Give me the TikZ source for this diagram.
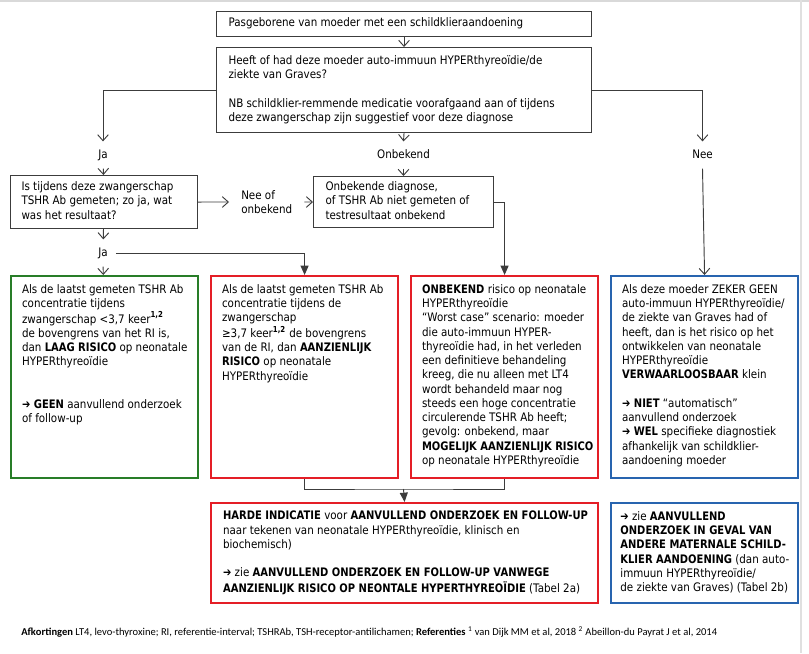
\documentclass[tikz,border=0pt]{standalone}
\usepackage{fontspec}
\setmainfont{DejaVu Sans}[FakeStretch=0.88, BoldFeatures={FakeStretch=0.85}]
\newfontfamily\notefont{Carlito}
\usetikzlibrary{arrows.meta,positioning,calc}

\definecolor{boxgreen}{RGB}{40,125,40}
\definecolor{boxred}{RGB}{228,30,38}
\definecolor{boxblue}{RGB}{40,100,175}
\definecolor{linegray}{RGB}{60,60,60}

\newcommand{\bodyfont}{\fontsize{8.8pt}{10.7pt}\selectfont}
\newcommand{\boxlines}[2]{\parbox{#1}{\begin{tabular}{@{}l@{}}#2\end{tabular}}}
\newcommand{\panellines}[1]{\parbox[c][140.7pt][t]{123.75pt}{\begin{tabular}{@{}l@{}}#1\end{tabular}}}

\begin{document}
\begin{tikzpicture}[
x=0.75pt,
y=-0.75pt,
qbox/.style={
  draw=linegray,
  line width=0.8pt,
  anchor=north west,
  inner xsep=9pt,
  inner ysep=0pt,
  font=\bodyfont
  },
panel/.style={
  draw=#1,
  line width=1.6pt,
  anchor=north west,
  inner xsep=8.25pt,
  inner ysep=5.4pt,
  font=\bodyfont
  },
lbl/.style={
  font=\bodyfont,
  inner sep=6pt,
  text height=6.5pt,
  text depth=1.5pt
  },
link/.style={draw=linegray, line width=0.7pt},
arr/.style={link, -{Straight Barb[length=4.5pt,width=8pt]}},
farr/.style={link, -{Triangle[length=7pt,width=6pt]}}
]
\useasboundingbox (0,0) rectangle (809,653);
\draw[black!15, line width=1.5pt] (0,1) -- (809,1);
\draw[black!12, line width=1pt] (801,0) -- (801,653);

% vragen bovenaan
\node[qbox, minimum width=281.25pt, minimum height=18.75pt] (start) at (216,11)
  {\boxlines{263.25pt}{Pasgeborene van moeder met een schildklieraandoening}};
\node[qbox, minimum width=281.25pt, minimum height=63.75pt] (ask) at (216,47)
  {\boxlines{263.25pt}{Heeft of had deze moeder auto-immuun HYPERthyreoïdie/de\\
   ziekte van Graves?\\ \\
   NB schildklier-remmende medicatie voorafgaand aan of tijdens\\
   deze zwangerschap zijn suggestief voor deze diagnose}};

\node[lbl] (ja1) at (103,155) {Ja};
\node[lbl] (onb) at (403.5,155) {Onbekend};
\node[lbl] (nee) at (702.5,155) {Nee};

\node[qbox, minimum height=39.75pt, inner xsep=8.25pt] (ask2) at (10,175)
  {\boxlines{123.75pt}{Is tijdens deze zwangerschap\\TSHR Ab gemeten; zo ja, wat\\was het resultaat?}};
\node[font=\bodyfont, align=left, anchor=west, inner xsep=9pt, inner ysep=2pt] (neeof) at (229,202)
  {Nee of\\onbekend};
\node[qbox, minimum height=38.25pt] (unknown) at (313,176)
  {\boxlines{117pt}{Onbekende diagnose,\\of TSHR Ab niet gemeten of\\testresultaat onbekend}};

\node[lbl] (ja2) at (103,253) {Ja};

% risico-blokken
\node[panel=boxgreen] (low) at (10,275)
  {\panellines{Als de laatst gemeten TSHR Ab\\
   concentratie tijdens\\
   zwangerschap <3,7 keer\textsuperscript{\textbf{1,2}}\\
   de bovengrens van het RI is,\\
   dan \textbf{LAAG RISICO} op neonatale\\
   HYPERthyreoïdie\\ \\ \\
   \textbf{➔ GEEN} aanvullend onderzoek\\
   of follow-up}};
\node[panel=boxred] (risk) at (210,275)
  {\panellines{Als de laatst gemeten TSHR Ab\\
   concentratie tijdens de\\
   zwangerschap\\
   ≥3,7 keer\textsuperscript{\textbf{1,2}} de bovengrens\\
   van de RI, dan \textbf{AANZIENLIJK}\\
   \textbf{RISICO} op neonatale\\
   HYPERthyreoïdie}};
\node[panel=boxred] (unsure) at (410,275)
  {\panellines{\textbf{ONBEKEND} risico op neonatale\\
   HYPERthyreoïdie\\
   “Worst case” scenario: moeder\\
   die auto-immuun HYPER-\\
   thyreoïdie had, in het verleden\\
   een definitieve behandeling\\
   kreeg, die nu alleen met LT4\\
   wordt behandeld maar nog\\
   steeds een hoge concentratie\\
   circulerende TSHR Ab heeft;\\
   gevolg: onbekend, maar\\
   \textbf{MOGELIJK AANZIENLIJK RISICO}\\
   op neonatale HYPERthyreoïdie}};
\node[panel=boxblue] (none) at (610,275)
  {\panellines{Als deze moeder ZEKER GEEN\\
   auto-immuun HYPERthyreoïdie/\\
   de ziekte van Graves had of\\
   heeft, dan is het risico op het\\
   ontwikkelen van neonatale\\
   HYPERthyreoïdie\\
   \textbf{VERWAARLOOSBAAR} klein\\ \\
   \textbf{➔ NIET} “automatisch”\\
   aanvullend onderzoek\\
   \textbf{➔ WEL} specifieke diagnostiek\\
   afhankelijk van schildklier-\\
   aandoening moeder}};

% vervolg
\node[panel=boxred, inner xsep=9pt, inner ysep=0pt, minimum height=75pt] (hard) at (210,502)
  {\boxlines{272.25pt}{\textbf{HARDE INDICATIE} voor \textbf{AANVULLEND ONDERZOEK EN FOLLOW-UP}\\
   naar tekenen van neonatale HYPERthyreoïdie, klinisch en\\
   biochemisch)\\ \\
   \textbf{➔} zie \textbf{AANVULLEND ONDERZOEK EN FOLLOW-UP VANWEGE}\\
   \textbf{AANZIENLIJK RISICO OP NEONTALE HYPERTHYREOÏDIE} (Tabel 2a)}};
\node[panel=boxblue, inner xsep=7pt, inner ysep=0pt, minimum height=75pt] (other) at (610,502)
  {\boxlines{126.25pt}{\textbf{➔} zie \textbf{AANVULLEND}\\
   \textbf{ONDERZOEK IN GEVAL VAN}\\
   \textbf{ANDERE MATERNALE SCHILD-}\\
   \textbf{KLIER AANDOENING} (dan auto-\\
   immuun HYPERthyreoïdie/\\
   de ziekte van Graves) (Tabel 2b)}};

\node[anchor=west, inner sep=0pt, font=\notefont\fontsize{7.9pt}{9pt}\selectfont] (notes) at (21,632)
  {\textbf{Afkortingen} LT4, levo-thyroxine; RI, referentie-interval; TSHRAb, TSH-receptor-antilichamen; \textbf{Referenties} \textsuperscript{1} van Dijk MM et al, 2018 \textsuperscript{2} Abeillon-du Payrat J et al, 2014};

% verbindingen
\draw[arr] (start) -- (ask);
\draw[arr] (ask.west) -| (ja1.north);
\draw[arr] (ask.south) -- (onb.north);
\draw[arr] (ask.east) -| (nee.north);
\draw[arr] (ja1) -- (ask2);
\draw[arr] (onb) -- (unknown.north -| onb);
\draw[arr] (ask2.east) -- (neeof.west);
\draw[arr] (neeof.east) -- (unknown.west);
\draw[arr] (ask2) -- (ja2);
\draw[arr] (ja2) -- (low);
\draw[farr] (ja2.east) -| (risk.north);
\draw[farr] (unknown.east) -| (unsure.north);
\draw[arr] (nee.south) -- (none.north);
\coordinate (merge) at (403.5,489);
\draw[link] (risk.south) |- (merge) -| (unsure.south);
\draw[farr] (merge) -- (hard.north);

\end{tikzpicture}
\end{document}
